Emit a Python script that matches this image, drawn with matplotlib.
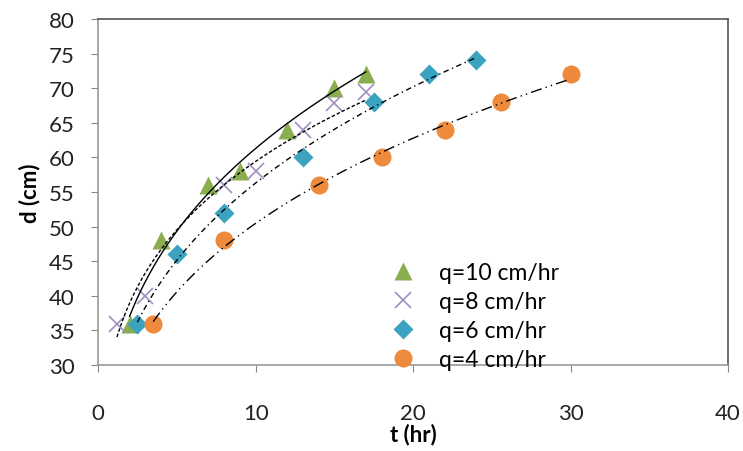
import numpy as np
import matplotlib.pyplot as plt

plt.rcParams['font.family'] = ['Lato', 'DejaVu Sans']

# data
t10 = [2, 4, 7, 9, 12, 15, 17]
d10 = [36, 48, 56, 58, 64, 70, 72]
t8 = [1.2, 3, 8, 10, 13, 15, 17]
d8 = [36, 40, 56, 58, 64, 67.8, 69.5]
t6 = [2.5, 5, 8, 13, 17.5, 21, 24]
d6 = [36, 46, 52, 60, 68, 72, 74]
t4 = [3.5, 8, 14, 18, 22, 25.6, 30]
d4 = [36, 48, 56, 60, 64, 68, 72]

labels = ['q=10 cm/hr', 'q=8 cm/hr', 'q=6 cm/hr', 'q=4 cm/hr']

fig = plt.figure(figsize=(7.43, 4.52), dpi=100)
ax = fig.add_axes([0.132, 0.190, 0.848, 0.766])

series = [
    (t10, d10, '^', '#8AAD4E', 13, '-', labels[0]),
    (t8, d8, 'x', '#9E8FC0', 12, (0, (2.5, 1.5)), labels[1]),
    (t6, d6, 'D', '#3BA3BF', 10, (0, (4, 2.5, 1, 2.5)), labels[2]),
    (t4, d4, 'o', '#EE8A3C', 13, (0, (8, 3, 1, 3, 1, 3)), labels[3]),
]

for t, d, m, c, ms, ls, lab in series:
    t = np.array(t)
    d = np.array(d)
    # power trendline, d = A * t^k
    k, lnA = np.polyfit(np.log(t), np.log(d), 1)
    tt = np.linspace(t.min(), t.max(), 200)
    ax.plot(tt, np.exp(lnA) * tt ** k, color='black', lw=1.0, ls=ls, zorder=3)
    if m == 'x':
        ax.plot(t, d, ls='none', marker=m, color=c, ms=ms, mew=1.2, label=lab, zorder=2)
    else:
        ax.plot(t, d, ls='none', marker=m, color=c, ms=ms, mec='none', label=lab, zorder=2)

ax.set_xlim(0, 40)
ax.set_ylim(30, 80)
ax.set_xticks([0, 10, 20, 30, 40])
ax.set_yticks(range(30, 81, 5))
ax.tick_params(direction='out', length=5, color='#888888', labelsize=16, labelcolor='#222222')
ax.tick_params(axis='y', pad=12)
ax.tick_params(axis='x', pad=22)
for s in ['left', 'bottom']:
    ax.spines[s].set_color('#999999')
    ax.spines[s].set_linewidth(1.2)
for s in ['top', 'right']:
    ax.spines[s].set_color('#555555')
    ax.spines[s].set_linewidth(1.2)

ax.set_xlabel('t (hr)', fontsize=16, fontweight='bold', labelpad=0)
ax.set_ylabel('d (cm)', fontsize=16, fontweight='bold', labelpad=6)

ax.legend(loc='lower left', bbox_to_anchor=(0.424, -0.075), frameon=False, fontsize=16.5,
          handletextpad=0.8, labelspacing=0.35, handlelength=1.5)

fig.savefig('out.png', dpi=100)
